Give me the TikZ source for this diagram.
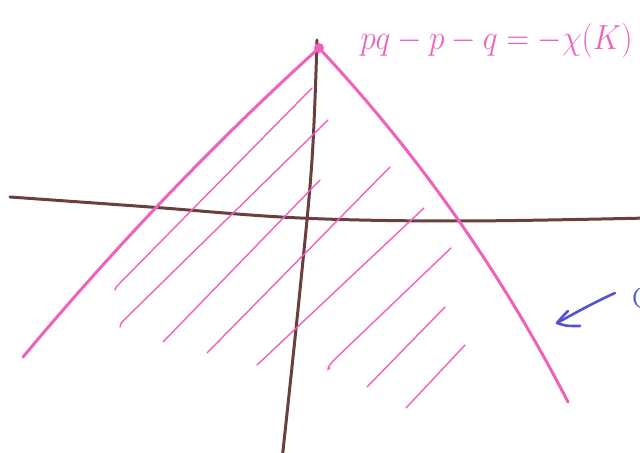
\documentclass[tikz,border=0pt]{standalone}
\usetikzlibrary{arrows.meta}
\definecolor{pinkink}{RGB}{240,98,186}
\definecolor{brownink}{RGB}{105,64,62}
\definecolor{blueink}{RGB}{84,84,206}
\begin{document}
\begin{tikzpicture}[x=1bp,y=-1bp,
  edge/.style={pinkink,line width=3bp,line cap=round,line join=round},
  hatch/.style={pinkink,line width=1.4bp,line cap=round},
  axis/.style={brownink,line width=3bp,line cap=round,line join=round},
  pen/.style={blueink,line width=2.6bp,line cap=round,line join=round},
  eqtext/.style={text=pinkink,inner sep=0pt,font=\fontsize{34}{40}\selectfont,xscale=1.27,yscale=1.4}
]
\useasboundingbox (0,0) rectangle (640,453);
\fill[white] (0,0) rectangle (640,453);
\clip (0,0) rectangle (640,453);
% named points
\coordinate (apex) at (319,48);
\coordinate (lb) at (23,357);
\coordinate (rb) at (568,402);
\coordinate (hl) at (10,197);
\coordinate (hr) at (648,218);
\coordinate (vt) at (317,40);
\coordinate (vb) at (282,460);
% axes
\draw[axis] plot[smooth,tension=0.6] coordinates {(hl) (150,207) (300,218) (460,221) (hr)};
\draw[axis] plot[smooth,tension=0.6] coordinates {(vt) (312,160) (300,290) (vb)};
% cone edges
\draw[edge] (apex) .. controls (213,144) and (115,247) .. (lb);
\draw[edge] (apex) .. controls (418,154) and (501,272) .. (rb);
\fill[pinkink] (apex) circle (5);
% hatching
\draw[hatch] (115,290) .. controls (116,287) .. (119,284) -- (312,88);
\draw[hatch] (120,327) .. controls (121,323) .. (124,320) -- (328,120);
\draw[hatch] (163,342) -- (320,180);
\draw[hatch] (207,353) -- (390,167);
\draw[hatch] (257,365) -- (424,208);
\draw[hatch] (451,248) -- (334,360) .. controls (328,366) and (326,372) .. (330,368);
\draw[hatch] (367,387) -- (445,307);
\draw[hatch] (406,408) -- (465,345);
% label
\node[eqtext,anchor=base west] (eq) at (360,50) {$pq-p-q=-\chi(K)$};
% blue arrow
\coordinate (bs) at (615,293);
\coordinate (bt) at (557,323);
\draw[pen] (bs) .. controls (595,302) and (575,313) .. (bt);
\draw[pen] (568,311) .. controls (563,316) .. (bt) .. controls (566,326) .. (580,326);
\node[text=blueink,font=\fontsize{30}{34}\selectfont,anchor=west,inner sep=0pt] (cc) at (632,298) {C};
\end{tikzpicture}
\end{document}
